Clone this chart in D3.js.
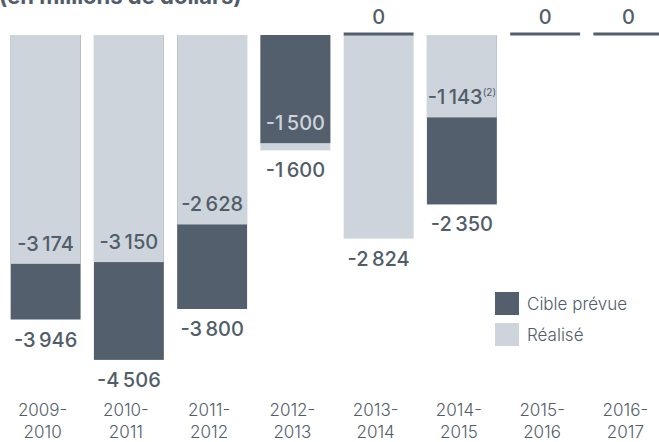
<!doctype html>
<html>
  <head>
    <meta charset="utf-8">
    <script src="https://cdn.jsdelivr.net/npm/d3@7/dist/d3.min.js"></script>
    <style>
      body { margin: 0; background: #fff; }
      svg { display: block; font-family: Inter, "Noto Sans", sans-serif; }
    </style>
  </head>
  <body>
    <svg id="chart" width="659" height="442"></svg>
    <script>
      // data (en millions de dollars)
      const categories = ["2009-2010", "2010-2011", "2011-2012", "2012-2013",
                          "2013-2014", "2014-2015", "2015-2016", "2016-2017"];
      const cible   = [-3946, -4506, -3800, -1500, 0, -2350, 0, 0];
      const realise = [-3174, -3150, -2628, -1600, -2824, -1143, null, null];
      const notes   = ["", "", "", "", "", "(2)", "", ""];
      const legendLabels = ["Cible prévue", "Réalisé"];

      const dark = "#535f6c", light = "#cdd4db", textCol = "#515d69";

      const svg = d3.select("#chart");

      const x = d3.scaleBand().domain(categories).range([4, 670])
        .paddingInner(0.16).paddingOuter(0.08);
      const y = d3.scaleLinear().domain([0, -5000]).range([35, 395.5]);

      const fmt = v => d3.format(",")(v).replace(/,/g, "\u202f").replace("\u2212", "-");

      // title (cut off at top in the original too)
      svg.append("text")
        .attr("x", -1).attr("y", 4)
        .attr("font-size", 22).attr("font-weight", 700)
        .attr("fill", textCol)
        .text("(en millions de dollars)");

      const rows = categories.map((c, i) => ({
        cat: c, cible: cible[i], realise: realise[i], note: notes[i]
      }));

      const g = svg.selectAll("g.cat").data(rows).enter()
        .append("g").attr("class", "cat");

      g.each(function(d) {
        const sel = d3.select(this);
        const bx = x(d.cat), bw = x.bandwidth(), cx = bx + bw / 2;
        const bars = [];
        if (d.cible !== 0) bars.push({ v: d.cible, col: dark, txt: light });
        if (d.realise !== null && d.realise !== 0) bars.push({ v: d.realise, col: light, txt: textCol });
        bars.sort((a, b) => a.v - b.v); // larger magnitude first (behind)

        bars.forEach(b => {
          sel.append("rect")
            .attr("x", bx).attr("width", bw)
            .attr("y", y(0)).attr("height", y(b.v) - y(0))
            .attr("fill", b.col);
        });

        // zero target shown as a thin line
        if (d.cible === 0) {
          sel.append("rect")
            .attr("x", bx).attr("width", bw)
            .attr("y", y(0) - 2.5).attr("height", 3)
            .attr("fill", dark);
          sel.append("text")
            .attr("x", cx).attr("y", y(0) - 18).attr("dy", "0.35em")
            .attr("text-anchor", "middle")
            .attr("font-size", 20).attr("font-weight", 500)
            .attr("fill", textCol).text("0");
        }

        bars.forEach((b, i) => {
          const outside = i === 0;
          const t = sel.append("text")
            .attr("x", cx)
            .attr("y", outside ? y(b.v) + 20 : y(b.v) - 20)
            .attr("dy", "0.35em")
            .attr("text-anchor", "middle")
            .attr("font-size", 20).attr("font-weight", 500)
            .attr("fill", outside ? textCol : b.txt);
          t.append("tspan").text(fmt(b.v));
          if (!outside && d.note && b.v === d.realise) {
            t.append("tspan").attr("font-size", 10).attr("font-weight", 400)
              .attr("dy", "-0.8em").text(d.note);
          }
        });
      });

      // category axis labels (two lines)
      svg.selectAll("text.cat").data(categories).enter()
        .append("text").attr("class", "cat")
        .attr("text-anchor", "middle")
        .attr("font-size", 17).attr("font-weight", 300).attr("fill", textCol)
        .each(function(d) {
          const parts = d.split("-");
          const cx = x(d) + x.bandwidth() / 2 - 3;
          d3.select(this).append("tspan").attr("x", cx).attr("y", 416).text(parts[0] + "-");
          d3.select(this).append("tspan").attr("x", cx).attr("y", 438).text(parts[1]);
        });

      // legend
      const lg = svg.append("g").attr("transform", "translate(495,292)");
      legendLabels.forEach((l, i) => {
        lg.append("rect").attr("x", 0).attr("y", i * 31)
          .attr("width", 24).attr("height", 23)
          .attr("fill", i === 0 ? dark : light);
        lg.append("text").attr("x", 32).attr("y", i * 31 + 12).attr("dy", "0.35em")
          .attr("font-size", 17).attr("font-weight", 300).attr("fill", textCol).text(l);
      });
    </script>
  </body>
</html>
